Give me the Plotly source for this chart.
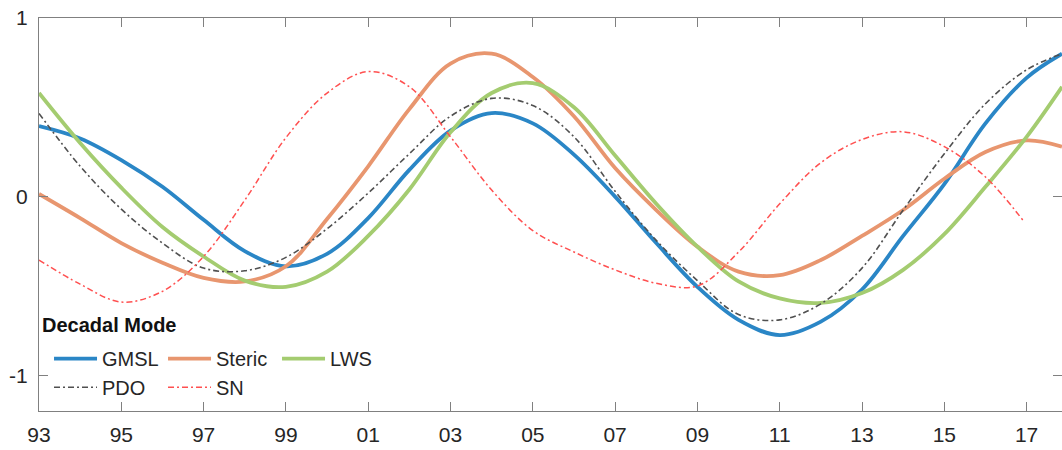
import plotly.graph_objects as go

# Decadal-mode time series, normalised units, sampled yearly (last value at the right edge)
years = [1993, 1994, 1995, 1996, 1997, 1998, 1999, 2000, 2001, 2002, 2003, 2004, 2005,
         2006, 2007, 2008, 2009, 2010, 2011, 2012, 2013, 2014, 2015, 2016, 2017, 2017.86]

gmsl = [0.395, 0.326, 0.205, 0.055, -0.13, -0.305, -0.39, -0.32, -0.12, 0.15, 0.37, 0.468, 0.41,
        0.235, 0.0, -0.26, -0.505, -0.69, -0.775, -0.70, -0.52, -0.22, 0.07, 0.41, 0.665, 0.80]

steric = [0.015, -0.12, -0.26, -0.37, -0.455, -0.475, -0.39, -0.125, 0.17, 0.49, 0.745, 0.80, 0.67,
          0.45, 0.16, -0.075, -0.28, -0.42, -0.44, -0.355, -0.22, -0.075, 0.10, 0.25, 0.315, 0.28]

lws = [0.58, 0.30, 0.05, -0.17, -0.335, -0.47, -0.505, -0.42, -0.22, 0.04, 0.36, 0.58, 0.635,
       0.50, 0.23, -0.04, -0.28, -0.475, -0.57, -0.595, -0.54, -0.41, -0.21, 0.055, 0.335, 0.615]

pdo = [0.466, 0.17, -0.07, -0.26, -0.40, -0.415, -0.34, -0.18, 0.02, 0.24, 0.45, 0.55, 0.51,
       0.335, 0.03, -0.245, -0.47, -0.66, -0.69, -0.60, -0.40, -0.075, 0.24, 0.52, 0.71, 0.80]

sn_years = [1993, 1994, 1995, 1996, 1997, 1998, 1999, 2000, 2001, 2002, 2003, 2004, 2005,
            2006, 2007, 2008, 2009, 2010, 2011, 2012, 2013, 2014, 2015, 2016, 2016.92]
sn = [-0.355, -0.49, -0.59, -0.53, -0.335, -0.02, 0.33, 0.58, 0.70, 0.615, 0.335, 0.037, -0.19,
      -0.31, -0.41, -0.485, -0.50, -0.31, -0.04, 0.19, 0.32, 0.363, 0.28, 0.11, -0.135]

tick_years = [1993, 1995, 1997, 1999, 2001, 2003, 2005, 2007, 2009, 2011, 2013, 2015, 2017]
tick_text = ["93", "95", "97", "99", "01", "03", "05", "07", "09", "11", "13", "15", "17"]

FONT = "Liberation Sans, Arial, sans-serif"
TXT = "#262626"

fig = go.Figure()

solid = [
    ("GMSL", gmsl, "#2a86c6"),
    ("Steric", steric, "#e8966f"),
    ("LWS", lws, "#a4cc70"),
]
for name, vals, col in solid:
    fig.add_trace(go.Scatter(
        x=years, y=vals, name=name, mode="lines",
        line=dict(color=col, width=3.8, shape="spline", smoothing=1.0),
        legend="legend",
    ))

fig.add_trace(go.Scatter(
    x=years, y=pdo, name="PDO", mode="lines",
    line=dict(color="#505050", width=1.6, dash="6px,3px,2px,3px", shape="spline", smoothing=1.0),
    legend="legend2",
))
fig.add_trace(go.Scatter(
    x=sn_years, y=sn, name="SN", mode="lines",
    line=dict(color="#ff5050", width=1.5, dash="6px,3px,2px,3px", shape="spline", smoothing=1.0),
    legend="legend2",
))

legend_common = dict(
    x=0.0098, xanchor="left", orientation="h",
    entrywidth=56, entrywidthmode="pixels", itemwidth=43,
    font=dict(family=FONT, size=20, color=TXT),
    bgcolor="rgba(0,0,0,0)", borderwidth=0,
)

fig.update_layout(
    width=1062, height=450,
    margin=dict(l=39, r=0, t=18, b=39),
    paper_bgcolor="white", plot_bgcolor="white",
    font=dict(family=FONT, size=20, color=TXT),
    showlegend=True,
    legend=dict(**legend_common, y=0.183, yanchor="top"),
    legend2=dict(**legend_common, y=0.11, yanchor="top"),
    annotations=[dict(
        text="<b>Decadal Mode</b>", xref="paper", yref="paper",
        x=0.001, y=0.219, xanchor="left", yanchor="middle", showarrow=False,
        font=dict(family=FONT, size=20, color="#111111"),
    )],
    xaxis=dict(
        range=[1993, 2017.86],
        tickmode="array", tickvals=tick_years, ticktext=tick_text,
        ticks="inside", ticklen=9, tickwidth=1, tickcolor="#808080",
        showline=True, linecolor="#808080", linewidth=1, mirror="ticks",
        showgrid=False, zeroline=False,
        tickfont=dict(family=FONT, size=21, color=TXT),
        ticklabelstandoff=5,
    ),
    yaxis=dict(
        range=[-1.2, 1.0],
        tickmode="array", tickvals=[-1, 0, 1], ticktext=["-1", "0", "1"],
        ticks="inside", ticklen=9, tickwidth=1, tickcolor="#808080",
        showline=True, linecolor="#808080", linewidth=1, mirror="ticks",
        showgrid=False, zeroline=False,
        tickfont=dict(family=FONT, size=21, color=TXT),
        ticklabelstandoff=6,
    ),
)

fig.write_html("out.html")
